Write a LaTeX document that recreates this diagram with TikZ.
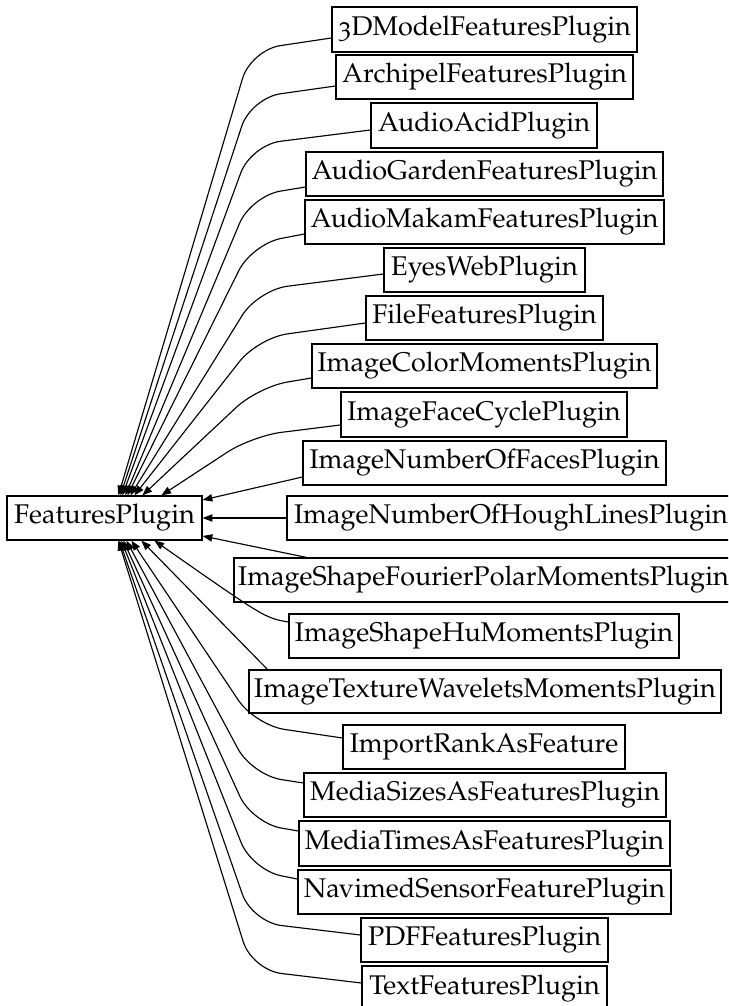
\documentclass[tikz,border=0pt]{standalone}
\usepackage[T1]{fontenc}
\usepackage[osf]{mathpazo}
\usetikzlibrary{arrows.meta,calc}
\begin{document}
\begin{tikzpicture}[x=0.37pt,y=-0.37pt,
  box/.style={draw=black, line width=0.45pt, inner sep=0pt, minimum height=44*0.37pt,
              font=\fontsize{10}{12}\selectfont, anchor=center},
  bw/.style={minimum width=#1*0.37pt},
  edge/.style={draw=black, line width=0.42pt, -{Triangle[length=3.6pt,width=2.7pt]}},
  knee/.style={rounded corners=11pt}]
\useasboundingbox (0,0) rectangle (728,1006);
\clip (0,0) rectangle (728,1006);

\node[box,bw=195] (fp) at (104.5,518) {FeaturesPlugin};

\node[box,bw=305,minimum height=45*0.37pt] (n1) at (484.5,29.5) {3DModelFeaturesPlugin};
\node[box,bw=297] (n2) at (484.5,77) {ArchipelFeaturesPlugin};
\node[box,bw=226,minimum height=45*0.37pt] (n3) at (484,125.5) {AudioAcidPlugin};
\node[box,bw=357] (n4) at (484.5,174) {AudioGardenFeaturesPlugin};
\node[box,bw=359] (n5) at (484.5,222) {AudioMakamFeaturesPlugin};
\node[box,bw=201] (n6) at (484.5,270) {EyesWebPlugin};
\node[box,bw=237] (n7) at (484.5,318) {FileFeaturesPlugin};
\node[box,bw=345] (n8) at (484.5,366) {ImageColorMomentsPlugin};
\node[box,bw=286,minimum height=45*0.37pt] (n9) at (484,414.5) {ImageFaceCyclePlugin};
\node[box,bw=363] (n10) at (484.5,463) {ImageNumberOfFacesPlugin};
\node[box,bw=448] (n11) at (511,518) {ImageNumberOfHoughLinesPlugin};
\node[box,bw=499] (n12) at (483.5,580) {ImageShapeFourierPolarMomentsPlugin};
\node[box,bw=390] (n13) at (484,636) {ImageShapeHuMomentsPlugin};
\node[box,bw=472,minimum height=43*0.37pt] (n14) at (485,691.5) {ImageTextureWaveletsMomentsPlugin};
\node[box,bw=282] (n15) at (484,747) {ImportRankAsFeature};
\node[box,bw=362] (n16) at (485,795) {MediaSizesAsFeaturesPlugin};
\node[box,bw=371,minimum height=45*0.37pt] (n17) at (484.5,843.5) {MediaTimesAsFeaturesPlugin};
\node[box,bw=373] (n18) at (484.5,892) {NavimedSensorFeaturePlugin};
\node[box,bw=247] (n19) at (484.5,940) {PDFFeaturesPlugin};
\node[box,bw=245,minimum height=45*0.37pt] (n20) at (484.5,988.5) {TextFeaturesPlugin};

% upper edges
\draw[edge,knee] ($(n1.west)+(0,8.5)$) -- (251,50) -- ($(fp.north west)+(112,0)$);
\draw[edge,knee] ($(n2.west)+(0,9)$) -- (251,98) -- ($(fp.north west)+(114,0)$);
\draw[edge,knee] ($(n3.west)+(0,4.5)$) -- (251,145) -- ($(fp.north west)+(116,0)$);
\draw[edge,knee] ($(n4.west)+(0,13)$) -- (251,196) -- ($(fp.north west)+(119,0)$);
\draw[edge,knee] ($(n5.west)+(0,12)$) -- (252,244) -- ($(fp.north west)+(121,0)$);
\draw[edge,knee] ($(n6.west)+(0,4)$) -- (258,290) -- ($(fp.north west)+(124,0)$);
\draw[edge,knee] ($(n7.west)+(0,5)$) -- (258,338) -- ($(fp.north west)+(128,0)$);
\draw[edge,knee] ($(n8.west)+(0,12)$) -- (258,387) -- ($(fp.north west)+(136,0)$);
\draw[edge,knee] ($(n9.west)+(0,10.5)$) -- (252,436) -- ($(fp.north west)+(155,0)$);
% side edges
\draw[edge] ($(n10.west)+(0,14)$) -- ($(fp.east)+(0,-18)$);
\draw[edge] (n11.west) -- (fp.east);
\draw[edge] ($(n12.north west)+(73,0)$) -- ($(fp.east)+(0,18)$);
% lower edges
\draw[edge] ($(n13.west)+(0,-14)$) .. controls (265,618) .. ($(fp.south west)+(148,0)$);
\draw[edge] ($(n14.north west)+(19,0)$) -- ($(fp.south west)+(135,0)$);
\draw[edge,knee] ($(n15.west)+(0,-9)$) -- (255,725) -- ($(fp.south west)+(125,0)$);
\draw[edge,knee] ($(n16.west)+(0,-12)$) -- (252,775) -- ($(fp.south west)+(120,0)$);
\draw[edge,knee] ($(n17.west)+(0,-12.5)$) -- (252,823) -- ($(fp.south west)+(117,0)$);
\draw[edge,knee] ($(n18.west)+(0,-13)$) -- (252,870) -- ($(fp.south west)+(115,0)$);
\draw[edge,knee] ($(n19.west)+(0,-5)$) -- (252,922) -- ($(fp.south west)+(113,0)$);
\draw[edge,knee] ($(n20.west)+(0,-5.5)$) -- (252,970) -- ($(fp.south west)+(112,0)$);
\end{tikzpicture}
\end{document}
